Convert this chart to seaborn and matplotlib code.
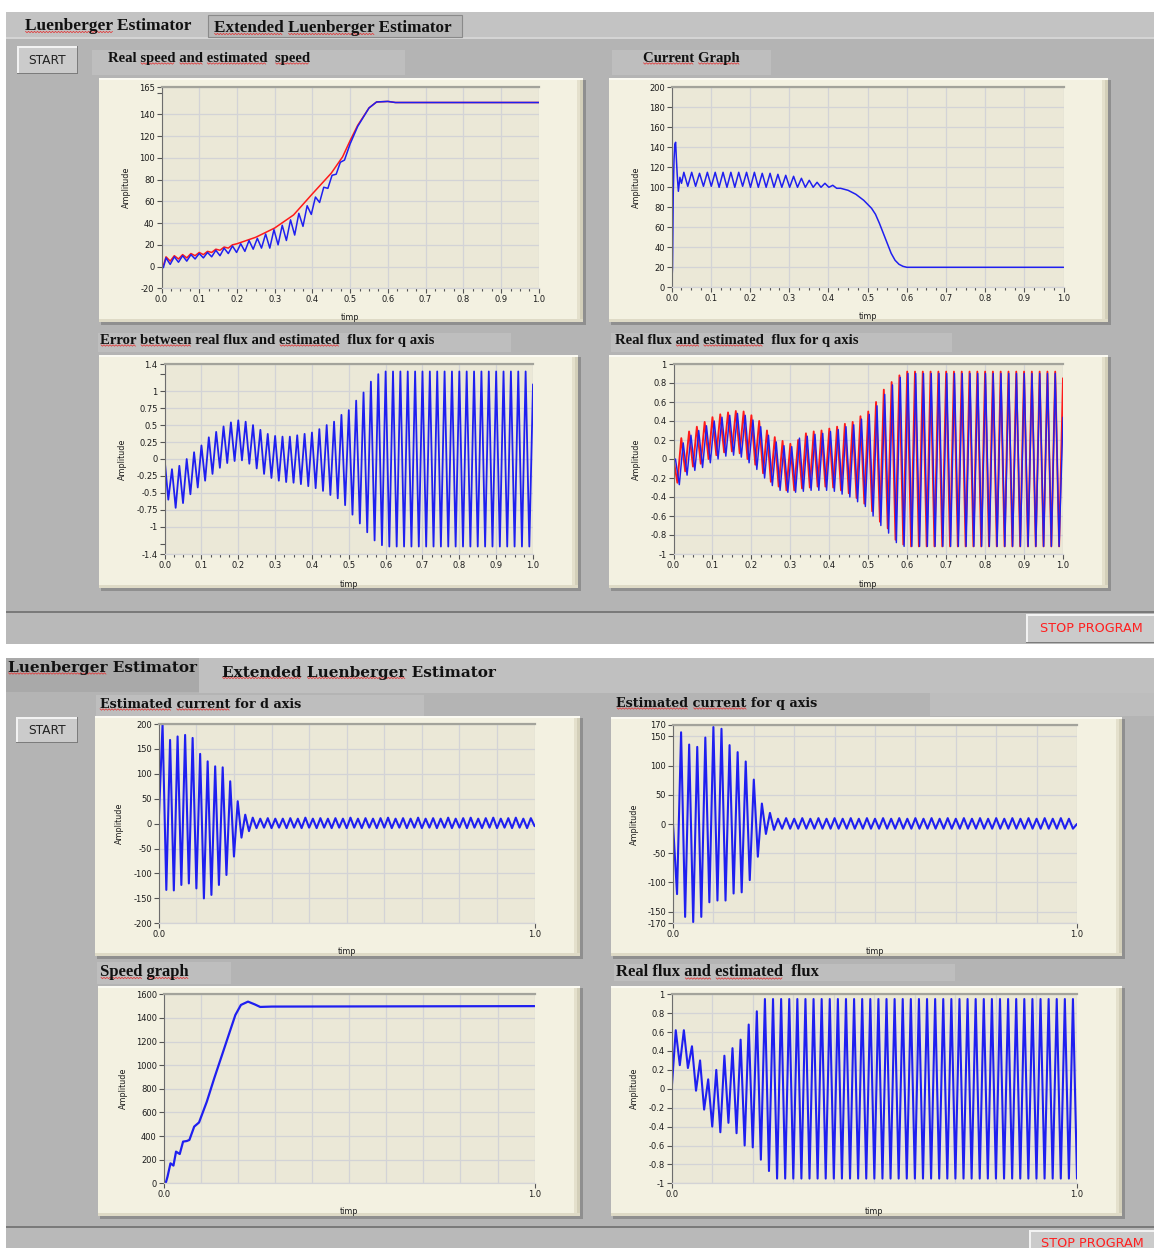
import matplotlib
matplotlib.use("Agg")
import matplotlib.pyplot as plt
import matplotlib.patches as mpatches
import numpy as np
import seaborn as sns

# ---------------- data ----------------
# top panel, "Real speed and estimated speed"
speed_real_t = [0.0, 0.006, 0.012, 0.023, 0.034, 0.045, 0.056, 0.067, 0.078, 0.089,
                0.1, 0.111, 0.122, 0.133, 0.144, 0.155, 0.166, 0.177, 0.188, 0.2,
                0.25, 0.3, 0.35, 0.4, 0.45, 0.48, 0.5, 0.52, 0.55, 0.57,
                0.6, 0.62, 1.0]
speed_real_v = [0, 2, 9, 5, 10, 7, 11, 8, 12, 10,
                13, 11, 14, 13, 16, 15, 18, 17, 20, 21,
                27, 35.5, 47.5, 67, 86, 101, 116, 130, 146, 151.5,
                152, 151, 151]
speed_est_t = [0.0, 0.005, 0.012, 0.023, 0.034, 0.045, 0.056, 0.067, 0.078, 0.089,
               0.1, 0.111, 0.122, 0.133, 0.144, 0.155, 0.166, 0.177, 0.188, 0.199,
               0.21, 0.221, 0.232, 0.243, 0.254, 0.265, 0.276, 0.287, 0.298, 0.309,
               0.32, 0.331, 0.342, 0.353, 0.364, 0.375, 0.386, 0.397, 0.408, 0.419,
               0.43, 0.441, 0.452, 0.463, 0.474, 0.485, 0.5, 0.52, 0.55, 0.57,
               0.6, 0.62, 1.0]
speed_est_v = [0, -1, 8, 2, 9, 4, 10, 5, 11, 7,
               12, 8, 13, 9, 15, 10, 17, 12, 19, 13,
               21, 14, 24, 16, 26, 17, 30, 17, 34, 20,
               38, 24, 43, 29, 49, 37, 56, 48, 64, 59,
               73, 72, 84, 85, 96, 98, 113, 129, 146, 151.5,
               152, 151, 151]

# top panel, "Current Graph"
current_t = [0.0, 0.002, 0.004, 0.006, 0.008, 0.010, 0.012, 0.014, 0.017, 0.021, 0.025,
             0.031, 0.041, 0.051, 0.061, 0.071, 0.081, 0.091, 0.101, 0.111, 0.121,
             0.131, 0.141, 0.151, 0.161, 0.171, 0.181, 0.191, 0.201, 0.211, 0.221,
             0.231, 0.241, 0.251, 0.261, 0.271, 0.281, 0.291, 0.301, 0.311, 0.321,
             0.331, 0.341, 0.351, 0.361, 0.371, 0.381, 0.391, 0.401, 0.411, 0.421, 0.431,
             0.45, 0.47, 0.49, 0.51, 0.52, 0.53, 0.54, 0.55, 0.56, 0.57, 0.58, 0.59, 0.60,
             1.0]
current_v = [0, 20, 95, 128, 143, 145, 128, 113, 96, 110, 104,
             115, 101, 115, 101, 114, 101, 115, 101, 115, 100,
             115, 100, 115, 100, 115, 101, 115, 100, 115, 100,
             114, 100, 114, 100, 113, 100, 112, 100, 111, 100,
             109, 100, 107, 100, 105, 100, 104, 100, 102, 99, 99,
             97, 93, 87, 79, 73, 64, 54, 44, 34, 27, 23, 21, 20,
             20]

# 50 Hz signals: one value per half period (alternating peak / trough), t = 0 .. 1 s
flux_err_q = [0.0, -0.6, -0.15, -0.72, -0.1, -0.65, 0.0, -0.52, 0.1, -0.42,
              0.2, -0.32, 0.32, -0.22, 0.4, -0.13, 0.48, -0.06, 0.54, -0.03,
              0.57, -0.02, 0.55, -0.07, 0.5, -0.14, 0.43, -0.22, 0.37, -0.28,
              0.34, -0.32, 0.33, -0.34, 0.33, -0.35, 0.35, -0.37, 0.37, -0.4,
              0.39, -0.43, 0.44, -0.47, 0.5, -0.53, 0.55, -0.58, 0.65, -0.68,
              0.72, -0.82, 0.86, -0.95, 0.98, -1.08, 1.14, -1.2, 1.25, -1.27,
              1.29, -1.29, 1.29, -1.29, 1.29, -1.29, 1.29, -1.29, 1.29, -1.29,
              1.29, -1.29, 1.29, -1.29, 1.29, -1.29, 1.29, -1.29, 1.29, -1.29,
              1.29, -1.29, 1.29, -1.29, 1.29, -1.29, 1.29, -1.29, 1.29, -1.29,
              1.29, -1.29, 1.29, -1.29, 1.29, -1.29, 1.29, -1.29, 1.29, -1.29,
              1.1]
flux_real_q = [0.0, -0.25, 0.22, -0.13, 0.29, -0.08, 0.34, -0.05, 0.39, 0.0,
               0.44, 0.04, 0.47, 0.07, 0.49, 0.08, 0.505, 0.06, 0.5, 0.0,
               0.46, -0.06, 0.4, -0.15, 0.3, -0.24, 0.23, -0.29, 0.19, -0.33,
               0.16, -0.33, 0.2, -0.31, 0.27, -0.3, 0.29, -0.29, 0.3, -0.29,
               0.32, -0.3, 0.34, -0.33, 0.37, -0.36, 0.39, -0.41, 0.45, -0.47,
               0.5, -0.55, 0.6, -0.66, 0.73, -0.73, 0.81, -0.85, 0.88, -0.9,
               0.92, -0.92, 0.92, -0.92, 0.92, -0.92, 0.92, -0.92, 0.92, -0.92,
               0.92, -0.92, 0.92, -0.92, 0.92, -0.92, 0.92, -0.92, 0.92, -0.92,
               0.92, -0.92, 0.92, -0.92, 0.92, -0.92, 0.92, -0.92, 0.92, -0.92,
               0.92, -0.92, 0.92, -0.92, 0.92, -0.92, 0.92, -0.92, 0.92, -0.92,
               0.85]
flux_est_q = [0.0, -0.27, 0.17, -0.17, 0.25, -0.12, 0.3, -0.09, 0.35, -0.04,
              0.4, 0.0, 0.44, 0.03, 0.46, 0.04, 0.48, 0.02, 0.46, -0.04,
              0.41, -0.11, 0.34, -0.2, 0.25, -0.28, 0.18, -0.33, 0.14, -0.35,
              0.13, -0.35, 0.22, -0.34, 0.24, -0.33, 0.26, -0.33, 0.27, -0.33,
              0.29, -0.34, 0.31, -0.37, 0.34, -0.4, 0.36, -0.45, 0.42, -0.5,
              0.47, -0.6, 0.56, -0.7, 0.68, -0.78, 0.78, -0.88, 0.86, -0.92,
              0.9, -0.92, 0.9, -0.92, 0.9, -0.92, 0.9, -0.92, 0.9, -0.92,
              0.9, -0.92, 0.9, -0.92, 0.9, -0.92, 0.9, -0.92, 0.9, -0.92,
              0.9, -0.92, 0.9, -0.92, 0.9, -0.92, 0.9, -0.92, 0.9, -0.92,
              0.9, -0.92, 0.9, -0.92, 0.9, -0.92, 0.9, -0.92, 0.9, -0.92,
              0.44]

# bottom panel
id_est = [7, 200, -133, 168, -134, 175, -123, 178, -120, 172,
          -130, 140, -150, 125, -143, 115, -123, 113, -103, 85,
          -66, 45, -28, 18, -15, 12, -9, 10, -8, 11,
          -9, 10, -8, 10, -9, 11, -8, 10, -9, 12,
          -8, 10, -9, 11, -8, 10, -9, 11, -8, 10,
          -9, 12, -8, 10, -9, 11, -8, 10, -9, 11,
          -8, 12, -9, 10, -8, 11, -9, 10, -8, 12,
          -9, 10, -8, 11, -9, 10, -8, 12, -9, 10,
          -8, 11, -9, 12, -8, 10, -9, 11, -8, 12,
          -9, 10, -8, 11, -9, 12, -8, 10, -9, 11,
          -5]
iq_est = [0, -120, 157, -159, 136, -168, 132, -159, 148, -134,
          166, -131, 163, -131, 135, -119, 123, -117, 107, -96,
          76, -56, 35, -17, 19, -10, 9, -8, 10, -8,
          9, -8, 10, -8, 9, -8, 10, -8, 9, -8,
          10, -8, 9, -8, 10, -8, 9, -8, 10, -8,
          9, -8, 10, -8, 9, -8, 10, -8, 9, -8,
          10, -8, 9, -8, 10, -8, 9, -8, 10, -8,
          9, -8, 10, -8, 9, -8, 10, -8, 9, -8,
          10, -8, 9, -8, 10, -8, 9, -8, 10, -8,
          9, -8, 10, -8, 9, -8, 10, -8, 9, -8,
          0]
speed2_t = [0.0, 0.005, 0.01, 0.018, 0.026, 0.033, 0.043, 0.052, 0.062, 0.069,
            0.082, 0.095, 0.116, 0.136, 0.157, 0.178, 0.193, 0.208, 0.227, 0.245,
            0.26, 0.291, 1.0]
speed2_v = [0, 0, 56, 169, 150, 268, 248, 353, 358, 367,
            480, 515, 691, 889, 1086, 1284, 1425, 1510, 1538, 1515,
            1493, 1496, 1500]
flux_real = [0.0, 0.62, 0.25, 0.62, 0.22, 0.45, -0.02, 0.3, -0.22, 0.1,
             -0.4, 0.2, -0.46, 0.35, -0.36, 0.43, -0.47, 0.52, -0.6, 0.68,
             -0.62, 0.82, -0.75, 0.95, -0.87, 0.95, -0.95, 0.95, -0.95, 0.95,
             -0.95, 0.95, -0.95, 0.95, -0.95, 0.95, -0.95, 0.95, -0.95, 0.95,
             -0.95, 0.95, -0.95, 0.95, -0.95, 0.95, -0.95, 0.95, -0.95, 0.95,
             -0.95, 0.95, -0.95, 0.95, -0.95, 0.95, -0.95, 0.95, -0.95, 0.95,
             -0.95, 0.95, -0.95, 0.95, -0.95, 0.95, -0.95, 0.95, -0.95, 0.95,
             -0.95, 0.95, -0.95, 0.95, -0.95, 0.95, -0.95, 0.95, -0.95, 0.95,
             -0.95, 0.95, -0.95, 0.95, -0.95, 0.95, -0.95, 0.95, -0.95, 0.95,
             -0.95, 0.95, -0.95, 0.95, -0.95, 0.95, -0.95, 0.95, -0.95, 0.95,
             -0.95]

x_major = [0.0, 0.1, 0.2, 0.3, 0.4, 0.5, 0.6, 0.7, 0.8, 0.9, 1.0]
x_labels = ["0.0", "0.1", "0.2", "0.3", "0.4", "0.5", "0.6", "0.7", "0.8", "0.9", "1.0"]

# ---------------- look ----------------
W, H = 1154, 1248
PANEL = "#b4b4b4"
BAR = "#c3c3c3"
LABELBOX = "#bebebe"
FRAME = "#f3f1e1"
PLOTBG = "#ebe8d7"
GRID = "#d3d3d6"
BLUE = "#1f1ff0"
RED = "#ff1a1a"

sns.set_theme(style="white")
plt.rcParams['font.family'] = ['DejaVu Sans']

fig = plt.figure(figsize=(W / 100, H / 100), dpi=100)
fig.patch.set_facecolor("white")
bg = fig.add_axes([0, 0, 1, 1])
bg.set_xlim(0, W)
bg.set_ylim(H, 0)
bg.axis("off")
renderer = fig.canvas.get_renderer()


def rect(x0, y0, x1, y1, fc, ec="none", lw=0.0):
    bg.add_patch(mpatches.Rectangle((x0, y0), x1 - x0, y1 - y0,
                                    facecolor=fc, edgecolor=ec, linewidth=lw))


def button(x0, y0, x1, y1, text, color, size, weight="normal"):
    rect(x0, y0, x1, y1, "#7c7c7c")
    rect(x0, y0, x1 - 1.5, y1 - 1.5, "#f2f2f2")
    rect(x0 + 1.5, y0 + 1.5, x1 - 1.5, y1 - 1.5, "#cbcbcb")
    bg.text((x0 + x1) / 2, (y0 + y1) / 2 + 0.5, text, ha="center", va="center",
            fontsize=size, color=color, fontweight=weight)


def frame(x0, y0, x1, y1):
    rect(x0 + 2, y0 + 2, x1 + 3, y1 + 3, "#8f8f8f")
    rect(x0, y0, x1, y1, FRAME)
    rect(x1 - 6, y0, x1, y1, "#e4e0cc")
    rect(x1 - 3, y0, x1, y1, "#d3cfb9")
    rect(x0, y1 - 3, x1, y1, "#dedac6")
    rect(x0, y0, x1, y0 + 1.5, "#fbfaf2")


def squiggle(x0, x1, y):
    xs = np.arange(x0, x1 + 0.1, 1.5)
    ys = y + np.where(np.arange(len(xs)) % 2 == 0, -0.7, 0.7)
    bg.plot(xs, ys, color="#e23a3a", linewidth=0.55)


def label(x, y, s, family, size, marks=(), weight="bold"):
    # caption text; the words in marks get the red spell-check underline
    kw = dict(family=family, fontsize=size, fontweight=weight, va="center")
    t = bg.text(x, y, s, color="#111111", **kw)

    def width(sub):
        tmp = bg.text(x, y, sub, **kw)
        w = tmp.get_window_extent(renderer).width
        tmp.remove()
        return w

    bb = t.get_window_extent(renderer)
    ybot = H - bb.y0 - 1.5
    pos = 0
    for w in marks:
        i = s.find(w, pos)
        end = width(s[:i + len(w)])
        squiggle(x + end - width(w) + 0.5, x + end - 0.5, ybot)
        pos = i + len(w)


def plot_axes(x0, y0, x1, y1):
    return fig.add_axes([x0 / W, 1 - y1 / H, (x1 - x0) / W, (y1 - y0) / H])


def style(ax, ylim, yticks, ylabels, ylab_dx, xlab_dy=25, full_x=True, yminor=()):
    ax.set_facecolor(PLOTBG)
    ax.set_xlim(0, 1)
    ax.set_ylim(*ylim)
    ax.set_yticks(yticks)
    ax.set_yticklabels(ylabels)
    if len(yminor):
        ax.set_yticks(list(yminor), minor=True)
    if full_x:
        ax.set_xticks(x_major)
        ax.set_xticklabels(x_labels)
        ax.set_xticks([i / 40 for i in range(41)], minor=True)
        ax.tick_params(axis="x", which="minor", length=2.2, width=0.8,
                       color="#555555", direction="out")
        ax.grid(True, which="major", color=GRID, linewidth=0.9)
    else:
        ax.set_xticks([0.0, 1.0])
        ax.set_xticklabels(["0.0", "1.0"])
        ax.set_xticks(x_major[1:-1], minor=True)
        ax.tick_params(axis="x", which="minor", length=0)
        ax.grid(True, which="major", axis="y", color=GRID, linewidth=0.9)
        ax.grid(True, which="both", axis="x", color=GRID, linewidth=0.9)
    ax.tick_params(axis="both", which="major", direction="out", length=3.5,
                   width=0.8, color="#555555", labelsize=6, labelcolor="#1c1c1c", pad=1.5)
    ax.tick_params(axis="y", which="minor", direction="out", length=3.5,
                   width=0.8, color="#555555")
    ax.tick_params(bottom=True, left=True, which="both")
    ax.spines["right"].set_visible(False)
    ax.spines["top"].set_color("#a3a39b")
    ax.spines["top"].set_linewidth(1.6)
    ax.spines["left"].set_color("#6d6d6d")
    ax.spines["left"].set_linewidth(0.8)
    ax.spines["bottom"].set_color(GRID)
    ax.spines["bottom"].set_linewidth(0.9)
    ax.set_axisbelow(True)
    ax.set_xlabel("timp", fontsize=5.8, color="#1c1c1c")
    ax.set_ylabel("Amplitude", fontsize=5.8, color="#1c1c1c")
    pos = ax.get_position()
    ax.yaxis.set_label_coords(-ylab_dx / (pos.width * W), 0.5)
    ax.xaxis.set_label_coords(0.5, -xlab_dy / (pos.height * H))


def line(ax, t, v, color, lw):
    sns.lineplot(x=t, y=v, ax=ax, color=color, linewidth=lw,
                 estimator=None, sort=False, legend=False)


serif = ["Liberation Serif", "DejaVu Serif"]
dserif = ["DejaVu Serif"]

# ---------------- top window ----------------
rect(6, 12, W, 644, PANEL)
rect(6, 12, W, 37, BAR)
rect(6, 37, W, 38.5, "#d4d4d4")
rect(208, 15, 462, 37, "#b7b7b7", ec="#8a8a8a", lw=0.8)
label(25, 25.5, "Luenberger Estimator", serif, 12.5, ["Luenberger"])
label(214, 27.5, "Extended Luenberger Estimator", serif, 12.3, ["Extended", "Luenberger"])
button(17, 46, 78, 74, "START", "#222222", 8.8)

rect(92, 50, 405, 75, LABELBOX)
rect(612, 50, 771, 75, LABELBOX)
rect(98, 333, 511, 352, LABELBOX)
rect(611, 333, 952, 352, LABELBOX)
label(108, 58.5, "Real speed and estimated  speed", serif, 10.6,
      ["speed", "and", "estimated", "speed"])
label(643, 58.5, "Current Graph", serif, 10.6, ["Current", "Graph"])
label(100.5, 340.5, "Error between real flux and estimated  flux for q axis", serif, 10.6,
      ["Error", "between", "estimated"])
label(615, 340.5, "Real flux and estimated  flux for q axis", serif, 10.6,
      ["and", "estimated"])

rect(6, 611, W, 613, "#7a7a7a")
rect(6, 613, W, 644, "#b9b9b9")
button(1026, 614, W + 2, 643, "STOP PROGRAM", "#ff2020", 9.2)

frame(99, 78, 583, 322)
frame(609, 78, 1108, 322)
frame(99, 355, 578, 588)
frame(609, 355, 1108, 588)

# ---------------- bottom window ----------------
rect(6, 658, W, 1248, PANEL)
rect(199, 658, W, 693, "#c0c0c0")
rect(6, 658, 199, 692, "#a9a9a9")
label(8, 668, "Luenberger Estimator", dserif, 11, ["Luenberger"])
label(222, 672.5, "Extended Luenberger Estimator", dserif, 11, ["Extended", "Luenberger"])
button(16, 717, 78, 743, "START", "#222222", 8.8)

rect(96, 695, 424, 717, LABELBOX)
rect(930, 693, W, 716, "#bdbdbd")
rect(97, 962, 231, 984, LABELBOX)
rect(614, 964, 955, 981, LABELBOX)
label(99.5, 704.5, "Estimated current for d axis", dserif, 9.2, ["Estimated", "current"])
label(616.5, 703.5, "Estimated current for q axis", dserif, 9.2, ["Estimated", "current"])
label(100.5, 971.5, "Speed graph", serif, 12, ["Speed", "graph"])
label(616.5, 972, "Real flux and estimated  flux", serif, 12, ["and", "estimated"])

rect(6, 1226, W, 1228, "#7a7a7a")
rect(6, 1228, W, 1248, "#b9b9b9")
button(1029, 1230, W + 2, 1256, "STOP PROGRAM", "#ff2020", 9.2)

frame(95, 716, 580, 956)
frame(611, 717, 1122, 956)
frame(98, 986, 580, 1216)
frame(611, 986, 1122, 1216)

# ---------------- graphs ----------------
half = np.linspace(0, 1, len(flux_err_q))

ax1 = plot_axes(161.5, 87.3, 538.8, 288.3)
style(ax1, (-20, 165), [-20, 0, 20, 40, 60, 80, 100, 120, 140, 165],
      ["-20", "0", "20", "40", "60", "80", "100", "120", "140", "165"], 31, yminor=[160])
line(ax1, speed_real_t, speed_real_v, RED, 1.1)
line(ax1, speed_est_t, speed_est_v, BLUE, 1.1)

ax2 = plot_axes(671.7, 87.3, 1063.6, 287.3)
style(ax2, (0, 200), [0, 20, 40, 60, 80, 100, 120, 140, 160, 180, 200],
      ["0", "20", "40", "60", "80", "100", "120", "140", "160", "180", "200"], 31)
line(ax2, current_t, current_v, BLUE, 1.1)

ax3 = plot_axes(164.6, 364, 533, 554)
style(ax3, (-1.4, 1.4), [-1.4, -1, -0.75, -0.5, -0.25, 0, 0.25, 0.5, 0.75, 1, 1.4],
      ["-1.4", "-1", "-0.75", "-0.5", "-0.25", "0", "0.25", "0.5", "0.75", "1", "1.4"],
      38, xlab_dy=26, yminor=[-1.25, 1.25])
line(ax3, half, flux_err_q, BLUE, 1.3)

ax4 = plot_axes(673.5, 364, 1063, 554)
style(ax4, (-1, 1), [-1, -0.8, -0.6, -0.4, -0.2, 0, 0.2, 0.4, 0.6, 0.8, 1],
      ["-1", "-0.8", "-0.6", "-0.4", "-0.2", "0", "0.2", "0.4", "0.6", "0.8", "1"],
      33, xlab_dy=26)
line(ax4, half, flux_real_q, RED, 1.35)
line(ax4, np.linspace(0.005, 1.0, len(flux_est_q)), flux_est_q, BLUE, 1.05)

ax5 = plot_axes(158.8, 724, 534.6, 923.3)
style(ax5, (-200, 200), [-200, -150, -100, -50, 0, 50, 100, 150, 200],
      ["-200", "-150", "-100", "-50", "0", "50", "100", "150", "200"], 35,
      xlab_dy=24, full_x=False)
line(ax5, half, id_est, BLUE, 1.5)

ax6 = plot_axes(673, 724.7, 1077, 923.3)
style(ax6, (-170, 170), [-170, -150, -100, -50, 0, 50, 100, 150, 170],
      ["-170", "-150", "-100", "-50", "0", "50", "100", "150", "170"], 34,
      xlab_dy=24, full_x=False)
line(ax6, half, iq_est, BLUE, 1.5)

ax7 = plot_axes(163.8, 994.3, 534.6, 1183.3)
style(ax7, (0, 1600), [0, 200, 400, 600, 800, 1000, 1200, 1400, 1600],
      ["0", "200", "400", "600", "800", "1000", "1200", "1400", "1600"], 36,
      xlab_dy=24, full_x=False)
line(ax7, speed2_t, speed2_v, BLUE, 1.6)

ax8 = plot_axes(671.7, 994.3, 1077, 1183.3)
style(ax8, (-1, 1), [-1, -0.8, -0.6, -0.4, -0.2, 0, 0.2, 0.4, 0.6, 0.8, 1],
      ["-1", "-0.8", "-0.6", "-0.4", "-0.2", "0", "0.2", "0.4", "0.6", "0.8", "1"],
      33, xlab_dy=24, full_x=False)
line(ax8, half, flux_real, BLUE, 1.5)

fig.savefig("out.png", dpi=100)
